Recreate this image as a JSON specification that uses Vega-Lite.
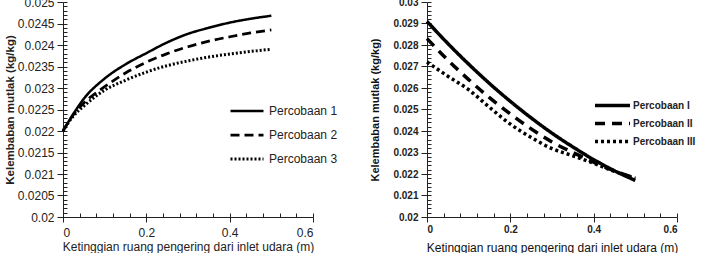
{
  "$schema": "https://vega.github.io/schema/vega-lite/v6.json",
  "background": "white",
  "padding": {"top": -4, "left": 4, "right": 0, "bottom": 0},
  "spacing": 31,
  "resolve": {
    "scale": {"strokeDash": "independent", "strokeWidth": "independent", "x": "independent", "y": "independent"},
    "legend": {"strokeDash": "independent", "strokeWidth": "independent"}
  },
  "datasets": {
    "left": [
      {"x": 0, "y": 0.0220, "s": "Percobaan 1"},
      {"x": 0.025, "y": 0.02240, "s": "Percobaan 1"},
      {"x": 0.05, "y": 0.02275, "s": "Percobaan 1"},
      {"x": 0.1, "y": 0.02322, "s": "Percobaan 1"},
      {"x": 0.15, "y": 0.02355, "s": "Percobaan 1"},
      {"x": 0.2, "y": 0.02381, "s": "Percobaan 1"},
      {"x": 0.25, "y": 0.02406, "s": "Percobaan 1"},
      {"x": 0.3, "y": 0.02426, "s": "Percobaan 1"},
      {"x": 0.35, "y": 0.02440, "s": "Percobaan 1"},
      {"x": 0.4, "y": 0.02452, "s": "Percobaan 1"},
      {"x": 0.45, "y": 0.02461, "s": "Percobaan 1"},
      {"x": 0.5, "y": 0.02468, "s": "Percobaan 1"},
      {"x": 0, "y": 0.0220, "s": "Percobaan 2"},
      {"x": 0.025, "y": 0.02238, "s": "Percobaan 2"},
      {"x": 0.05, "y": 0.02265, "s": "Percobaan 2"},
      {"x": 0.1, "y": 0.02303, "s": "Percobaan 2"},
      {"x": 0.15, "y": 0.02335, "s": "Percobaan 2"},
      {"x": 0.2, "y": 0.02360, "s": "Percobaan 2"},
      {"x": 0.25, "y": 0.02380, "s": "Percobaan 2"},
      {"x": 0.3, "y": 0.02396, "s": "Percobaan 2"},
      {"x": 0.35, "y": 0.02409, "s": "Percobaan 2"},
      {"x": 0.4, "y": 0.02419, "s": "Percobaan 2"},
      {"x": 0.45, "y": 0.02428, "s": "Percobaan 2"},
      {"x": 0.5, "y": 0.02435, "s": "Percobaan 2"},
      {"x": 0, "y": 0.0220, "s": "Percobaan 3"},
      {"x": 0.025, "y": 0.02235, "s": "Percobaan 3"},
      {"x": 0.05, "y": 0.02258, "s": "Percobaan 3"},
      {"x": 0.1, "y": 0.02295, "s": "Percobaan 3"},
      {"x": 0.15, "y": 0.02318, "s": "Percobaan 3"},
      {"x": 0.2, "y": 0.02337, "s": "Percobaan 3"},
      {"x": 0.25, "y": 0.02352, "s": "Percobaan 3"},
      {"x": 0.3, "y": 0.02363, "s": "Percobaan 3"},
      {"x": 0.35, "y": 0.02372, "s": "Percobaan 3"},
      {"x": 0.4, "y": 0.02379, "s": "Percobaan 3"},
      {"x": 0.45, "y": 0.02385, "s": "Percobaan 3"},
      {"x": 0.5, "y": 0.02390, "s": "Percobaan 3"}
    ],
    "right": [
      {"x": 0, "y": 0.02910, "s": "Percobaan I"},
      {"x": 0.05, "y": 0.02807, "s": "Percobaan I"},
      {"x": 0.1, "y": 0.02711, "s": "Percobaan I"},
      {"x": 0.15, "y": 0.02621, "s": "Percobaan I"},
      {"x": 0.2, "y": 0.02538, "s": "Percobaan I"},
      {"x": 0.25, "y": 0.02461, "s": "Percobaan I"},
      {"x": 0.3, "y": 0.02390, "s": "Percobaan I"},
      {"x": 0.35, "y": 0.02326, "s": "Percobaan I"},
      {"x": 0.4, "y": 0.02267, "s": "Percobaan I"},
      {"x": 0.45, "y": 0.02215, "s": "Percobaan I"},
      {"x": 0.5, "y": 0.02170, "s": "Percobaan I"},
      {"x": 0, "y": 0.02830, "s": "Percobaan II"},
      {"x": 0.05, "y": 0.02730, "s": "Percobaan II"},
      {"x": 0.1, "y": 0.02639, "s": "Percobaan II"},
      {"x": 0.15, "y": 0.02555, "s": "Percobaan II"},
      {"x": 0.2, "y": 0.02479, "s": "Percobaan II"},
      {"x": 0.25, "y": 0.02410, "s": "Percobaan II"},
      {"x": 0.3, "y": 0.02349, "s": "Percobaan II"},
      {"x": 0.35, "y": 0.02300, "s": "Percobaan II"},
      {"x": 0.4, "y": 0.02255, "s": "Percobaan II"},
      {"x": 0.45, "y": 0.02214, "s": "Percobaan II"},
      {"x": 0.5, "y": 0.02180, "s": "Percobaan II"},
      {"x": 0, "y": 0.02721, "s": "Percobaan III"},
      {"x": 0.05, "y": 0.02655, "s": "Percobaan III"},
      {"x": 0.1, "y": 0.02592, "s": "Percobaan III"},
      {"x": 0.15, "y": 0.02510, "s": "Percobaan III"},
      {"x": 0.2, "y": 0.02432, "s": "Percobaan III"},
      {"x": 0.25, "y": 0.02370, "s": "Percobaan III"},
      {"x": 0.3, "y": 0.02318, "s": "Percobaan III"},
      {"x": 0.35, "y": 0.02285, "s": "Percobaan III"},
      {"x": 0.4, "y": 0.02250, "s": "Percobaan III"},
      {"x": 0.45, "y": 0.02212, "s": "Percobaan III"},
      {"x": 0.5, "y": 0.02180, "s": "Percobaan III"}
    ]
  },
  "hconcat": [
    {
      "width": 250,
      "height": 215,
      "data": {"name": "left"},
      "resolve": {"axis": {"x": "independent", "y": "independent"}},
      "layer": [
        {
          "mark": {"type": "line", "color": "black", "interpolate": "monotone"},
          "encoding": {
            "x": {
              "field": "x", "type": "quantitative",
              "scale": {"domain": [0, 0.6], "nice": false, "zero": false},
              "axis": {
                "orient": "bottom",
                "values": [0, 0.2, 0.4, 0.6], "format": "~g",
                "title": "Ketinggian ruang pengering dari inlet udara  (m)",
                "titleFont": "Liberation Sans", "titleFontSize": 12, "titleFontWeight": "normal", "titleColor": "#222",
                "titlePadding": 3,
                "labelFont": "Liberation Sans", "labelFontSize": 12, "labelColor": "#222", "labelPadding": 5,
                "tickSize": 5, "tickColor": "#222", "domainColor": "#222", "grid": false
              }
            },
            "y": {
              "field": "y", "type": "quantitative",
              "scale": {"domain": [0.02, 0.025], "nice": false, "zero": false},
              "axis": {
                "orient": "left",
                "values": [0.02, 0.0205, 0.021, 0.0215, 0.022, 0.0225, 0.023, 0.0235, 0.024, 0.0245, 0.025], "format": "~g",
                "title": "Kelembaban mutlak (kg/kg)",
                "titleFont": "Liberation Sans", "titleFontSize": 11.5, "titleFontWeight": "bold", "titleColor": "#222",
                "titlePadding": 2,
                "labelFont": "Liberation Sans", "labelFontSize": 12, "labelColor": "#222", "labelPadding": 3,
                "tickSize": 6, "tickColor": "#222", "domainColor": "#222", "grid": false
              }
            },
            "strokeDash": {
              "field": "s", "type": "nominal",
              "scale": {"domain": ["Percobaan 1", "Percobaan 2", "Percobaan 3"], "range": [[1, 0], [9, 5], [2, 2]]},
              "legend": {
                "orient": "none", "legendX": 166, "legendY": 91, "title": null,
                "symbolType": "stroke", "symbolSize": 1089, "symbolStrokeWidth": 2.5, "symbolStrokeColor": "black",
                "labelFont": "Liberation Sans", "labelFontSize": 12, "labelFontWeight": "normal", "labelColor": "#222", "labelOffset": 4,
                "rowPadding": 0
              }
            },
            "strokeWidth": {
              "field": "s", "type": "nominal",
              "scale": {"domain": ["Percobaan 1", "Percobaan 2", "Percobaan 3"], "range": [2.5, 3, 2]},
              "legend": null
            }
          }
        },
        {
          "mark": {"type": "line", "opacity": 0},
          "encoding": {
            "x": {
              "field": "x", "type": "quantitative",
              "scale": {"domain": [0, 0.6], "nice": false, "zero": false},
              "axis": {
                "orient": "bottom", "title": null, "labels": false, "domain": false, "grid": false,
                "values": [0, 0.04, 0.08, 0.12, 0.16, 0.2, 0.24, 0.28, 0.32, 0.36, 0.4, 0.44, 0.48, 0.52, 0.56, 0.6],
                "tickSize": -4, "tickColor": "#222"
              }
            },
            "y": {
              "field": "y", "type": "quantitative",
              "scale": {"domain": [0.02, 0.025], "nice": false, "zero": false},
              "axis": {
                "orient": "left", "title": null, "labels": false, "domain": false, "grid": false,
                "values": [0.02, 0.0201, 0.0202, 0.0203, 0.0204, 0.0205, 0.0206, 0.0207, 0.0208, 0.0209, 0.021, 0.0211, 0.0212, 0.0213, 0.0214, 0.0215, 0.0216, 0.0217, 0.0218, 0.0219, 0.022, 0.0221, 0.0222, 0.0223, 0.0224, 0.0225, 0.0226, 0.0227, 0.0228, 0.0229, 0.023, 0.0231, 0.0232, 0.0233, 0.0234, 0.0235, 0.0236, 0.0237, 0.0238, 0.0239, 0.024, 0.0241, 0.0242, 0.0243, 0.0244, 0.0245, 0.0246, 0.0247, 0.0248, 0.0249, 0.025],
                "tickSize": -4, "tickColor": "#222"
              }
            }
          }
        }
      ]
    },
    {
      "width": 250,
      "height": 215,
      "data": {"name": "right"},
      "resolve": {"axis": {"x": "independent", "y": "independent"}},
      "layer": [
        {
          "mark": {"type": "line", "color": "black", "interpolate": "monotone"},
          "encoding": {
            "x": {
              "field": "x", "type": "quantitative",
              "scale": {"domain": [0, 0.6], "nice": false, "zero": false},
              "axis": {
                "orient": "bottom",
                "values": [0, 0.2, 0.4, 0.6], "format": "~g",
                "title": "Ketinggian ruang pengering dari inlet udara  (m)",
                "titleFont": "Liberation Sans", "titleFontSize": 12, "titleFontWeight": "normal", "titleColor": "#111",
                "titlePadding": 8,
                "labelFont": "Liberation Sans", "labelFontSize": 10, "labelFontWeight": "bold", "labelColor": "#222", "labelPadding": 2,
                "tickSize": 5, "tickColor": "#222", "domainColor": "#222", "grid": false
              }
            },
            "y": {
              "field": "y", "type": "quantitative",
              "scale": {"domain": [0.02, 0.03], "nice": false, "zero": false},
              "axis": {
                "orient": "left",
                "values": [0.02, 0.021, 0.022, 0.023, 0.024, 0.025, 0.026, 0.027, 0.028, 0.029, 0.03], "format": "~g",
                "title": "Kelembaban mutlak (kg/kg)",
                "titleFont": "Liberation Sans", "titleFontSize": 11, "titleFontWeight": "bold", "titleColor": "#111",
                "titlePadding": 12,
                "labelFont": "Liberation Sans", "labelFontSize": 10, "labelFontWeight": "bold", "labelColor": "#222", "labelPadding": 3,
                "tickSize": 6, "tickColor": "#222", "domainColor": "#222", "grid": false
              }
            },
            "strokeDash": {
              "field": "s", "type": "nominal",
              "scale": {"domain": ["Percobaan I", "Percobaan II", "Percobaan III"], "range": [[1, 0], [10, 7], [3, 3]]},
              "legend": {
                "orient": "none", "legendX": 175, "legendY": 93, "title": null,
                "symbolType": "M-2,0L2,0", "symbolSize": 306, "symbolStrokeWidth": 3.5, "symbolStrokeColor": "black",
                "labelFont": "Liberation Sans", "labelFontSize": 10, "labelFontWeight": "bold", "labelColor": "#222", "labelOffset": 10,
                "rowPadding": 0
              }
            },
            "strokeWidth": {
              "field": "s", "type": "nominal",
              "scale": {"domain": ["Percobaan I", "Percobaan II", "Percobaan III"], "range": [3.5, 3.5, 3.5]},
              "legend": null
            }
          }
        },
        {
          "mark": {"type": "line", "opacity": 0},
          "encoding": {
            "x": {
              "field": "x", "type": "quantitative",
              "scale": {"domain": [0, 0.6], "nice": false, "zero": false},
              "axis": {
                "orient": "bottom", "title": null, "labels": false, "domain": false, "grid": false,
                "values": [0, 0.04, 0.08, 0.12, 0.16, 0.2, 0.24, 0.28, 0.32, 0.36, 0.4, 0.44, 0.48, 0.52, 0.56, 0.6],
                "tickSize": -4, "tickColor": "#222"
              }
            },
            "y": {
              "field": "y", "type": "quantitative",
              "scale": {"domain": [0.02, 0.03], "nice": false, "zero": false},
              "axis": {
                "orient": "left", "title": null, "labels": false, "domain": false, "grid": false,
                "values": [0.02, 0.0202, 0.0204, 0.0206, 0.0208, 0.021, 0.0212, 0.0214, 0.0216, 0.0218, 0.022, 0.0222, 0.0224, 0.0226, 0.0228, 0.023, 0.0232, 0.0234, 0.0236, 0.0238, 0.024, 0.0242, 0.0244, 0.0246, 0.0248, 0.025, 0.0252, 0.0254, 0.0256, 0.0258, 0.026, 0.0262, 0.0264, 0.0266, 0.0268, 0.027, 0.0272, 0.0274, 0.0276, 0.0278, 0.028, 0.0282, 0.0284, 0.0286, 0.0288, 0.029, 0.0292, 0.0294, 0.0296, 0.0298, 0.03],
                "tickSize": -4, "tickColor": "#222"
              }
            }
          }
        }
      ]
    }
  ],
  "config": {"view": {"stroke": null}}
}
